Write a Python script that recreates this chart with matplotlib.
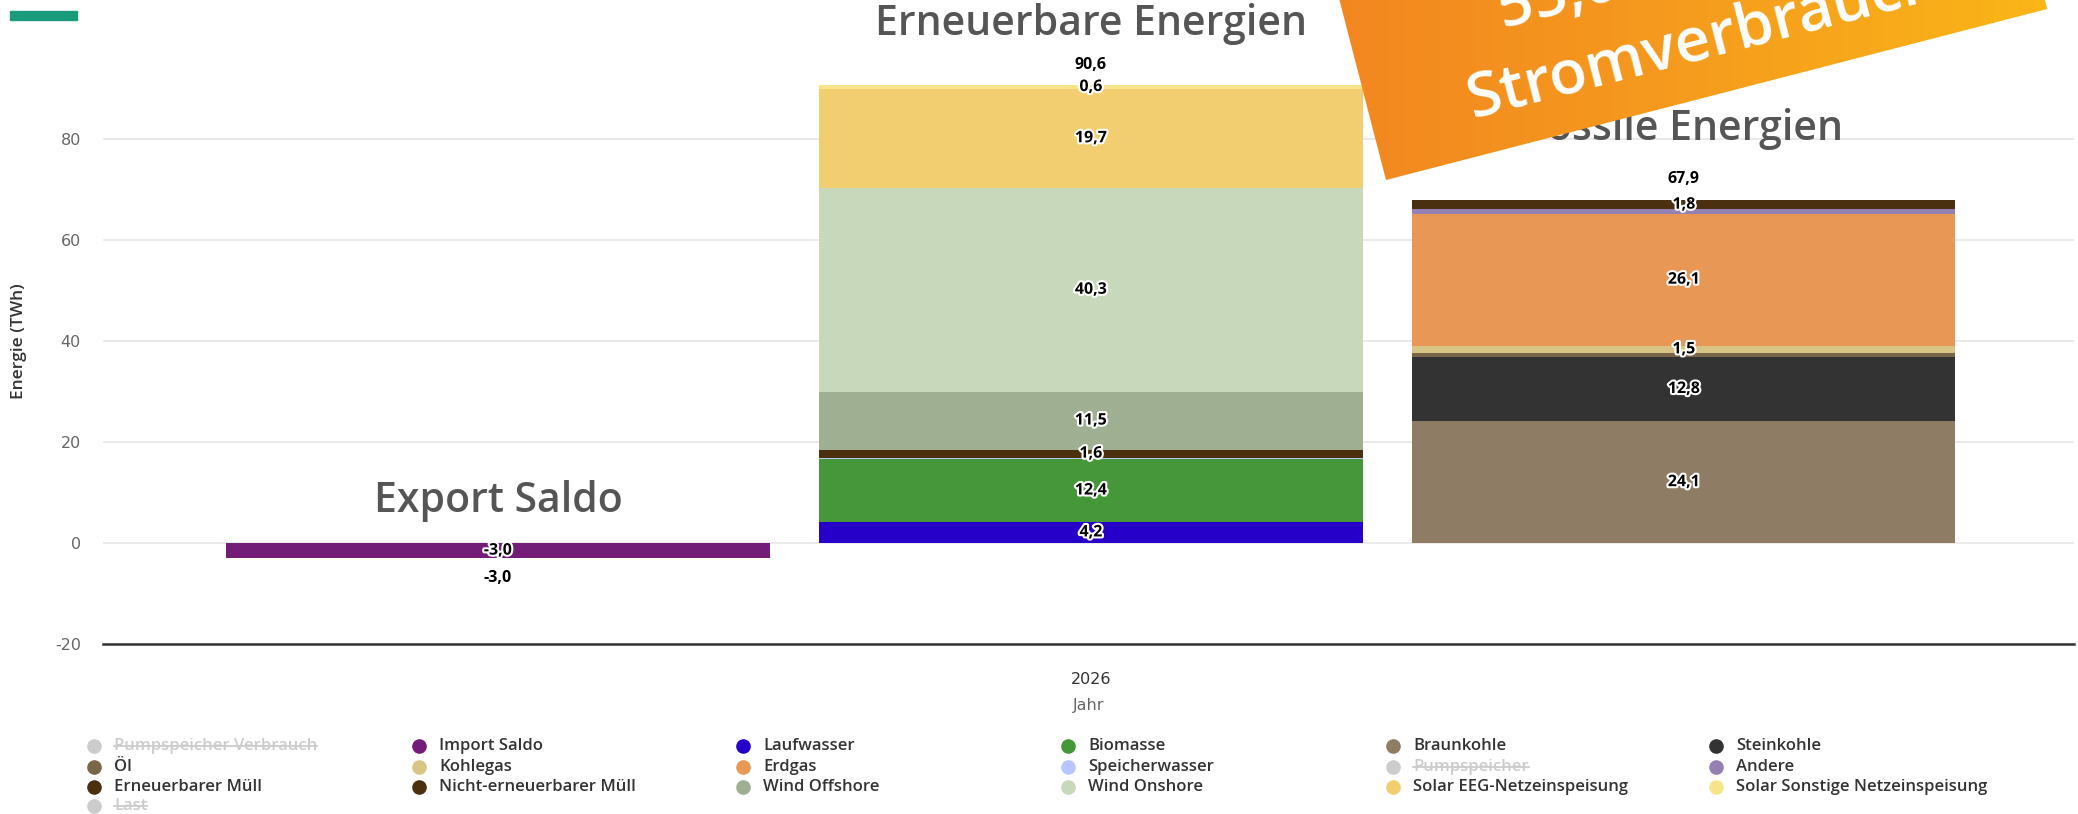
import matplotlib
matplotlib.use("Agg")
import numpy as np
import matplotlib.pyplot as plt
from matplotlib.patches import Polygon, Rectangle
from matplotlib.lines import Line2D
from matplotlib.transforms import IdentityTransform
import matplotlib.patheffects as pe

plt.rcParams['font.family'] = ['Open Sans', 'DejaVu Sans']

# stack groups at year 2026
year = "2026"
group_titles = ["Export Saldo", "Erneuerbare Energien", "Fossile Energien"]
group_pos = [-1, 0, 1]

export_names = ["Import Saldo"]
export_vals = [-3.0]

ee_names = ["Laufwasser", "Biomasse", "Speicherwasser", "Erneuerbarer Müll",
            "Wind Offshore", "Wind Onshore", "Solar EEG-Netzeinspeisung",
            "Solar Sonstige Netzeinspeisung"]
ee_vals = [4.2, 12.4, 0.3, 1.6, 11.5, 40.3, 19.7, 0.6]

fossil_names = ["Braunkohle", "Steinkohle", "Öl", "Kohlegas", "Erdgas",
                "Andere", "Nicht-erneuerbarer Müll"]
fossil_vals = [24.1, 12.8, 0.7, 1.5, 26.1, 0.9, 1.8]

# labels that highcharts hid (overlap)
no_label = ["Speicherwasser", "Öl", "Andere"]

legend_names = ["Pumpspeicher Verbrauch", "Import Saldo", "Laufwasser", "Biomasse", "Braunkohle", "Steinkohle",
                "Öl", "Kohlegas", "Erdgas", "Speicherwasser", "Pumpspeicher", "Andere",
                "Erneuerbarer Müll", "Nicht-erneuerbarer Müll", "Wind Offshore", "Wind Onshore",
                "Solar EEG-Netzeinspeisung", "Solar Sonstige Netzeinspeisung",
                "Last"]
legend_off = ["Pumpspeicher Verbrauch", "Pumpspeicher", "Last"]

colors = {
    "Pumpspeicher Verbrauch": "#cccccc",
    "Import Saldo": "#731c78",
    "Laufwasser": "#2600c8",
    "Biomasse": "#46963a",
    "Braunkohle": "#8e7c64",
    "Steinkohle": "#333333",
    "Öl": "#7b6549",
    "Kohlegas": "#d8c585",
    "Erdgas": "#e89754",
    "Speicherwasser": "#b8c6ff",
    "Pumpspeicher": "#cccccc",
    "Andere": "#9580b4",
    "Erneuerbarer Müll": "#4b3010",
    "Nicht-erneuerbarer Müll": "#4b3010",
    "Wind Offshore": "#9faf92",
    "Wind Onshore": "#c7d8bb",
    "Solar EEG-Netzeinspeisung": "#f2ce70",
    "Solar Sonstige Netzeinspeisung": "#f7e48a",
    "Last": "#cccccc",
}

banner_lines = ["55,0 % Anteil", "Stromverbrauch"]


def fmt(v):
    return f"{v:.1f}".replace(".", ",")


fig = plt.figure(figsize=(20.78, 8.14), dpi=100)
ax = fig.add_axes([0.0496, 0.2088, 0.9485, 0.7445])

outline = [pe.withStroke(linewidth=3, foreground="white")]
width = 0.916

stacks = [(export_names, export_vals), (ee_names, ee_vals), (fossil_names, fossil_vals)]
for x, title, (names, vals) in zip(group_pos, group_titles, stacks):
    pos_base = 0.0
    neg_base = 0.0
    for n, v in zip(names, vals):
        if v >= 0:
            b = pos_base
            pos_base += v
        else:
            b = neg_base
            neg_base += v
        ax.bar(x, v, width=width, bottom=b, color=colors[n], linewidth=0, zorder=3)
        if n not in no_label:
            ax.text(x, b + v / 2, fmt(v), ha="center", va="center", fontsize=11.5,
                    fontweight="bold", color="black", path_effects=outline, zorder=5)
    total = round(sum(vals), 1)
    if total >= 0:
        ax.annotate(fmt(total), (x, total), xytext=(0, 15), textcoords="offset points",
                    ha="center", va="center", fontsize=11.5, fontweight="bold", color="black")
    else:
        ax.annotate(fmt(total), (x, total), xytext=(0, -14), textcoords="offset points",
                    ha="center", va="center", fontsize=11.5, fontweight="bold", color="black")

# group titles
title_y = {"Export Saldo": 8.3, "Erneuerbare Energien": 102.8, "Fossile Energien": 82.0}
for x, title in zip(group_pos, group_titles):
    ax.text(x, title_y[title], title, ha="center", va="center", fontsize=29.5,
            fontweight="semibold", color="#555555", clip_on=False, zorder=6)

ax.set_xlim(-1.666, 1.658)
ax.set_ylim(-20, 100)
ax.set_yticks([-20, 0, 20, 40, 60, 80])
ax.set_yticklabels(["-20", "0", "20", "40", "60", "80"], fontfamily="DejaVu Sans",
                   fontsize=11.5, color="#666666")
ax.tick_params(axis="y", length=0, pad=16)
ax.set_xticks([0])
ax.set_xticklabels([year], fontfamily="DejaVu Sans", fontsize=11.5, color="#333333")
ax.tick_params(axis="x", length=0, pad=20)
ax.grid(axis="y", color="#e6e6e6", linewidth=1.2, zorder=0)
for s in ["top", "right", "left"]:
    ax.spines[s].set_visible(False)
ax.spines["bottom"].set_color("#333333")
ax.spines["bottom"].set_linewidth(1.8)
ax.set_xlabel("Jahr", fontfamily="DejaVu Sans", fontsize=11.5, color="#666666", labelpad=8)
ax.set_ylabel("Energie (TWh)", fontsize=12.5, fontweight="semibold", color="#333333")
ax.yaxis.set_label_coords(-0.0385, 0.5)

# overlay in pixel coords
ov = fig.add_axes([0, 0, 1, 1], zorder=10)
ov.set_xlim(0, 2078)
ov.set_ylim(814, 0)
ov.axis("off")
ov.patch.set_alpha(0)

ov.add_patch(Rectangle((10, 11), 67, 9, color="#1a9b7b"))

# banner
ang = np.deg2rad(14.5)
u = np.array([np.cos(ang), -np.sin(ang)])
nrm = np.array([-np.sin(ang), -np.cos(ang)])
bl = np.array([1386.0, 180.0])
br = bl + 683 * u
corners = [bl, br, br + 320 * nrm, bl + 320 * nrm]
poly = Polygon(corners, closed=True, facecolor="none", edgecolor="none")
ov.add_patch(poly)
grad = np.linspace(0, 1, 256).reshape(1, -1)
cmap = matplotlib.colors.LinearSegmentedColormap.from_list("b", ["#f28220", "#f59a1e", "#fbb817"])
im = ov.imshow(grad, extent=(1250, 2078, 250, -150), cmap=cmap, aspect="auto", zorder=11)
im.set_clip_path(poly)
ov.set_xlim(0, 2078)
ov.set_ylim(814, 0)

c2 = np.array([1708.0, 57.0])
c1 = c2 + 79 * nrm
for c, line in zip([c1, c2], banner_lines):
    t = ov.text(c[0], c[1], line, rotation=14.5, rotation_mode="anchor", ha="center",
                va="baseline", fontsize=44.5, fontweight="semibold", color="white", zorder=12)
    t.set_clip_path(poly)

# legend, 6 columns
col_x = [94, 419, 743, 1068, 1393, 1716]
row_y = [746, 767, 787, 806]
leg_texts = []
for i, n in enumerate(legend_names):
    cx = col_x[i % 6]
    cy = row_y[i // 6]
    ov.plot(cx, cy, "o", ms=9.5, color=colors[n], clip_on=False, zorder=12)
    tc = "#cccccc" if n in legend_off else "#333333"
    t = ov.text(cx + 20, cy, n, va="center", ha="left", fontsize=12, fontweight="semibold",
                color=tc, clip_on=False, zorder=12)
    if n in legend_off:
        leg_texts.append(t)

fig.canvas.draw()
r = fig.canvas.get_renderer()
for t in leg_texts:
    bb = t.get_window_extent(r)
    ym = bb.y0 + bb.height * 0.48
    fig.add_artist(Line2D([bb.x0, bb.x1], [ym, ym], transform=IdentityTransform(),
                          color="#cccccc", linewidth=1.3))

fig.savefig("out.png", dpi=100)
